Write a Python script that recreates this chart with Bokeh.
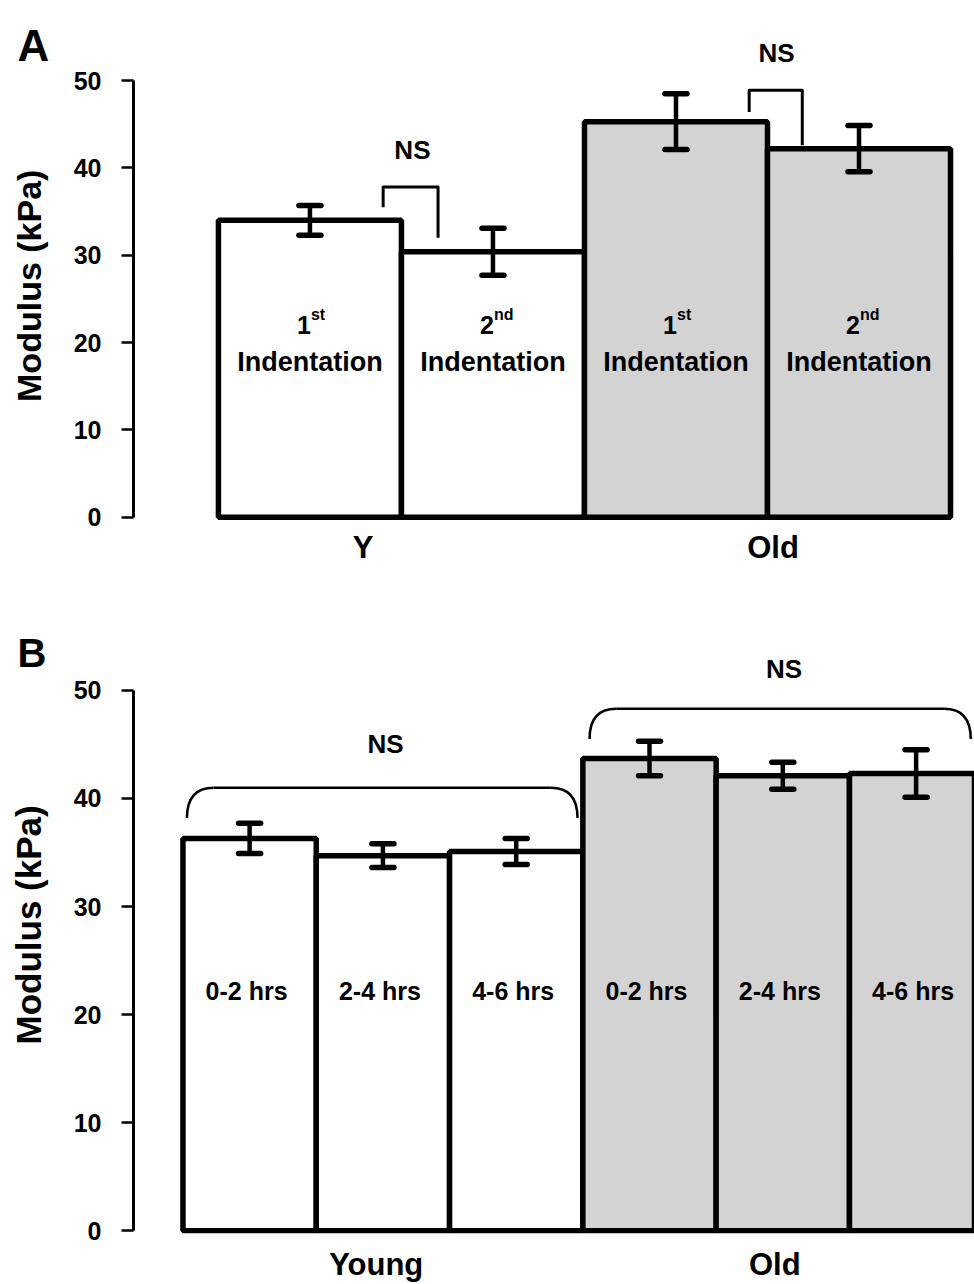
import math
from bokeh.plotting import figure
from bokeh.models import FixedTicker, Whisker, TeeHead, ColumnDataSource, Label, Range1d
from bokeh.layouts import column
from bokeh.embed import file_html
from bokeh.resources import INLINE
from bokeh.core.properties import value

FONT = "Liberation Sans"
GRAY = "#d3d3d3"

# ---------------- data: panel A ----------------
a_x = [0, 1, 2, 3]
a_group = ["Young", "Young", "Old", "Old"]
a_mean = [34.0, 30.4, 45.3, 42.2]
a_sem = [1.7, 2.7, 3.2, 2.65]
a_ordinal = ["1", "2", "1", "2"]
a_suffix = ["st", "nd", "st", "nd"]
a_word = ["Indentation", "Indentation", "Indentation", "Indentation"]
a_group_ticks = [0.29, 2.53]
a_group_labels = ["Y", "Old"]
a_br_x0 = [0.40, 2.40]
a_br_x1 = [0.70, 2.69]
a_br_top = [37.8, 48.9]
a_br_left = [35.5, 46.4]
a_br_right = [32.0, 42.6]
a_ns_x = [0.56, 2.55]
a_ns_y = [42.0, 53.2]
a_ns_text = ["NS", "NS"]

# ---------------- data: panel B ----------------
b_x = [0, 1, 2, 3, 4, 5]
b_group = ["Young", "Young", "Young", "Old", "Old", "Old"]
b_mean = [36.3, 34.7, 35.1, 43.7, 42.1, 42.3]
b_sem = [1.4, 1.1, 1.2, 1.6, 1.25, 2.2]
b_labels = ["0-2 hrs", "2-4 hrs", "4-6 hrs", "0-2 hrs", "2-4 hrs", "4-6 hrs"]
b_group_ticks = [0.95, 3.94]
b_group_labels = ["Young", "Old"]
b_br_x0 = [-0.47, 2.55]
b_br_x1 = [2.46, 5.41]
b_br_top = [41.0, 48.3]
b_br_end = [38.2, 45.5]
b_ns_x = [1.02, 4.01]
b_ns_y = [45.0, 52.0]
b_ns_text = ["NS", "NS"]

y_ticks = [0, 10, 20, 30, 40, 50]
y_label = "Modulus (kPa)"


def base_panel(height, xr, yr, top, bottom, xticks, xlabels, xstandoff):
    p = figure(width=974, height=height, x_range=Range1d(*xr), y_range=Range1d(*yr),
               output_backend="svg", toolbar_location=None,
               min_border_left=133, min_border_right=0,
               min_border_top=top, min_border_bottom=bottom,
               background_fill_color="white", border_fill_color="white",
               outline_line_color=None)
    p.grid.visible = False
    ya = p.yaxis[0]
    ya.ticker = FixedTicker(ticks=y_ticks)
    ya.bounds = (0, 50)
    ya.axis_line_width = 3
    ya.axis_line_color = "black"
    ya.major_tick_line_width = 2.5
    ya.major_tick_out = 12
    ya.major_tick_in = 0
    ya.minor_tick_line_color = None
    ya.minor_tick_out = 0
    ya.minor_tick_in = 0
    ya.major_label_text_font = FONT
    ya.major_label_text_font_style = "bold"
    ya.major_label_text_font_size = "25px"
    ya.major_label_text_color = "black"
    ya.major_label_standoff = 20

    xa = p.xaxis[0]
    xa.ticker = FixedTicker(ticks=xticks)
    xa.major_label_overrides = {t: l for t, l in zip(xticks, xlabels)}
    xa.axis_line_color = None
    xa.major_tick_line_color = None
    xa.minor_tick_line_color = None
    xa.major_tick_out = 0
    xa.major_tick_in = 0
    xa.minor_tick_out = 0
    xa.minor_tick_in = 0
    xa.major_label_text_font = FONT
    xa.major_label_text_font_style = "bold"
    xa.major_label_text_font_size = "31px"
    xa.major_label_text_color = "black"
    xa.major_label_standoff = xstandoff
    return p


def add_bars(p, xs, means, sems, groups, cap):
    fills = ["white" if g == "Young" else GRAY for g in groups]
    p.vbar(x=xs, top=means, bottom=0, width=1, fill_color=fills,
           line_color="black", line_width=5.5)
    src = ColumnDataSource(dict(x=xs,
                                upper=[m + s for m, s in zip(means, sems)],
                                lower=[m - s for m, s in zip(means, sems)]))
    w = Whisker(base="x", upper="upper", lower="lower", source=src, level="annotation",
                line_width=4.5, line_color="black",
                upper_head=TeeHead(size=cap, line_width=5.5, line_cap="round", line_color="black"),
                lower_head=TeeHead(size=cap, line_width=5.5, line_cap="round", line_color="black"))
    p.add_layout(w)


def side_labels(p, letter, lx, ly, lsize, tx, ty, tsize):
    p.add_layout(Label(x=lx, y=ly, text=letter, text_font=FONT, text_font_style="bold",
                       text_font_size=lsize, text_color="black", text_baseline="alphabetic",
                       text_align="left"), "left")
    p.add_layout(Label(x=tx, y=ty, text=y_label, angle=math.pi / 2, text_font=FONT,
                       text_font_style="bold", text_font_size=tsize, text_color="black",
                       text_align="center", text_baseline="middle"), "left")


# ---------------- panel A ----------------
pA = base_panel(590, (-0.964, 3.631), (-0.5, 57), 19, 69, a_group_ticks, a_group_labels, 8)
add_bars(pA, a_x, a_mean, a_sem, a_group, 22)
pA.multi_line(xs=[[x0, x0, x1, x1] for x0, x1 in zip(a_br_x0, a_br_x1)],
              ys=[[l, t, t, r] for l, t, r in zip(a_br_left, a_br_top, a_br_right)],
              line_color="black", line_width=3, line_join="round")
pA.text(x=a_ns_x, y=a_ns_y, text=a_ns_text, text_align="center", text_baseline="middle",
        text_font=value(FONT), text_font_style="bold", text_font_size="26px", text_color="black")
pA.text(x=a_x, y=22.0, text=a_ordinal, text_align="right", text_baseline="alphabetic",
        x_offset=1,
        text_font=value(FONT), text_font_style="bold", text_font_size="25px", text_color="black")
pA.text(x=a_x, y=22.0, text=a_suffix, text_align="left", text_baseline="alphabetic",
        x_offset=1, y_offset=-11,
        text_font=value(FONT), text_font_style="bold", text_font_size="16px", text_color="black")
pA.text(x=a_x, y=17.75, text=a_word, text_align="center", text_baseline="alphabetic",
        text_font=value(FONT), text_font_style="bold", text_font_size="27px", text_color="black")
side_labels(pA, "A", -1.598, 54.0, "44px", -1.535, 26.5, "34px")

# ---------------- panel B ----------------
pB = base_panel(694, (-0.871, 5.438), (-0.25, 56), 35, 49, b_group_ticks, b_group_labels, 13)
add_bars(pB, b_x, b_mean, b_sem, b_group, 22)
dx = 0.2
pB.quadratic(x0=b_br_x0, y0=b_br_end, x1=[x + dx for x in b_br_x0], y1=b_br_top,
             cx=b_br_x0, cy=b_br_top, line_color="black", line_width=2.5)
pB.segment(x0=[x + dx for x in b_br_x0], y0=b_br_top, x1=[x - dx for x in b_br_x1], y1=b_br_top,
           line_color="black", line_width=2.5)
pB.quadratic(x0=[x - dx for x in b_br_x1], y0=b_br_top, x1=b_br_x1, y1=b_br_end,
             cx=b_br_x1, cy=b_br_top, line_color="black", line_width=2.5)
pB.text(x=b_ns_x, y=b_ns_y, text=b_ns_text, text_align="center", text_baseline="middle",
        text_font=value(FONT), text_font_style="bold", text_font_size="26px", text_color="black")
pB.text(x=b_x, y=22.2, text=b_labels, text_align="center", text_baseline="middle",
        x_offset=-3,
        text_font=value(FONT), text_font_style="bold", text_font_size="25px", text_color="black")
side_labels(pB, "B", -1.741, 53.5, "40px", -1.662, 28.3, "35px")

layout = column(pA, pB, spacing=0)
open("out.html", "w").write(file_html(layout, INLINE))
